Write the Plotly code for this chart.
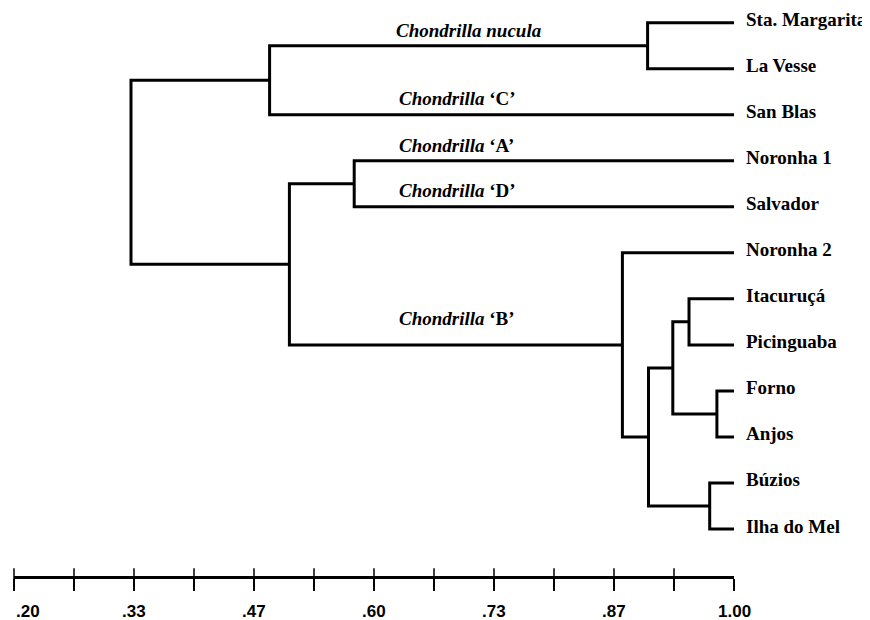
import plotly.graph_objects as go

# ---------------- data ----------------
leaf_labels = ["Sta. Margarita", "La Vesse", "San Blas", "Noronha 1", "Salvador",
               "Noronha 2", "Itacuruçá", "Picinguaba", "Forno", "Anjos",
               "Búzios", "Ilha do Mel"]
leaf_height = 1.0
# linkage: new node index = 12 + merge index
merge_left = [0, 12, 3, 6, 8, 15, 10, 17, 5, 14, 13]
merge_right = [1, 2, 4, 7, 9, 16, 11, 18, 19, 20, 21]
merge_height = [0.904, 0.484, 0.578, 0.950, 0.981, 0.932, 0.973, 0.905, 0.876, 0.506, 0.330]

clade_texts = ["<i>Chondrilla nucula</i>", "<i>Chondrilla</i> ‘C’", "<i>Chondrilla</i> ‘A’",
               "<i>Chondrilla</i> ‘D’", "<i>Chondrilla</i> ‘B’"]
clade_nodes = [12, 2, 3, 4, 20]

scale_ticks = [0.2 + k * 0.8 / 12 for k in range(13)]
scale_label_values = [0.2, 0.3333, 0.4667, 0.6, 0.7333, 0.8667, 1.0]
scale_labels = [".20", ".33", ".47", ".60", ".73", ".87", "1.00"]

# ---------------- build dendrogram ----------------
n = len(leaf_labels)
node_x = {i: leaf_height for i in range(n)}
node_y = {i: float(i) for i in range(n)}
xs, ys = [], []
for k, (a, b, h) in enumerate(zip(merge_left, merge_right, merge_height)):
    idx = n + k
    node_x[idx] = h
    node_y[idx] = (node_y[a] + node_y[b]) / 2
    xs += [node_x[a], h, h, node_x[b], None]
    ys += [node_y[a], node_y[a], node_y[b], node_y[b], None]

SERIF = "Liberation Serif, Times New Roman, serif"
NARROW = "Liberation Sans Narrow, Arial Narrow, Liberation Sans, sans-serif"
Y_RANGE = [12.021, -0.319]

fig = go.Figure()
fig.add_trace(go.Scatter(x=xs, y=ys, mode="lines",
                         line=dict(color="black", width=3),
                         cliponaxis=False, hoverinfo="skip", showlegend=False))
# small upper part of the scale ticks (crossing the axis line)
fig.add_trace(go.Scatter(x=scale_ticks, y=[Y_RANGE[0]] * len(scale_ticks), mode="markers",
                         marker=dict(symbol="line-ns-open", size=11, color="black",
                                     line=dict(color="black", width=1.5)),
                         cliponaxis=False, hoverinfo="skip", showlegend=False))

annotations = []
for i, lab in enumerate(leaf_labels):
    annotations.append(dict(x=leaf_height, y=node_y[i], xref="x", yref="y", text=lab,
                            showarrow=False, xanchor="left", yanchor="middle",
                            xshift=10, yshift=3,
                            font=dict(family=SERIF, size=19, color="black", weight="bold")))

clade_shift = [15, 16, 15, 16, 26]
clade_x = [0.622, 0.625, 0.625, 0.625, 0.625]
for t, nd, sh, cx in zip(clade_texts, clade_nodes, clade_shift, clade_x):
    annotations.append(dict(x=cx, y=node_y[nd], xref="x", yref="y", text=t,
                            showarrow=False, xanchor="left", yanchor="middle", yshift=sh,
                            font=dict(family=SERIF, size=19, color="black", weight="bold")))

for v, lab in zip(scale_label_values, scale_labels):
    annotations.append(dict(x=v, y=0, xref="x", yref="paper", text=lab,
                            showarrow=False, xanchor="left" if v == 0.2 else "center",
                            yanchor="middle", yshift=-35,
                            font=dict(family=NARROW, size=17, color="black", weight="bold")))

# the page places the figure 8px in from the top-left corner
fig.update_layout(
    width=862, height=612, autosize=False,
    margin=dict(l=6, r=136, t=0, b=44),
    paper_bgcolor="white", plot_bgcolor="white",
    showlegend=False,
    annotations=annotations,
    xaxis=dict(range=[0.2, 1.0], showgrid=False, zeroline=False,
               showline=True, linecolor="black", linewidth=2.5,
               ticks="outside", ticklen=12, tickwidth=1.5, tickcolor="black",
               tickvals=scale_ticks, showticklabels=False, fixedrange=True),
    yaxis=dict(range=Y_RANGE, visible=False, fixedrange=True),
)

fig.write_html("out.html")
